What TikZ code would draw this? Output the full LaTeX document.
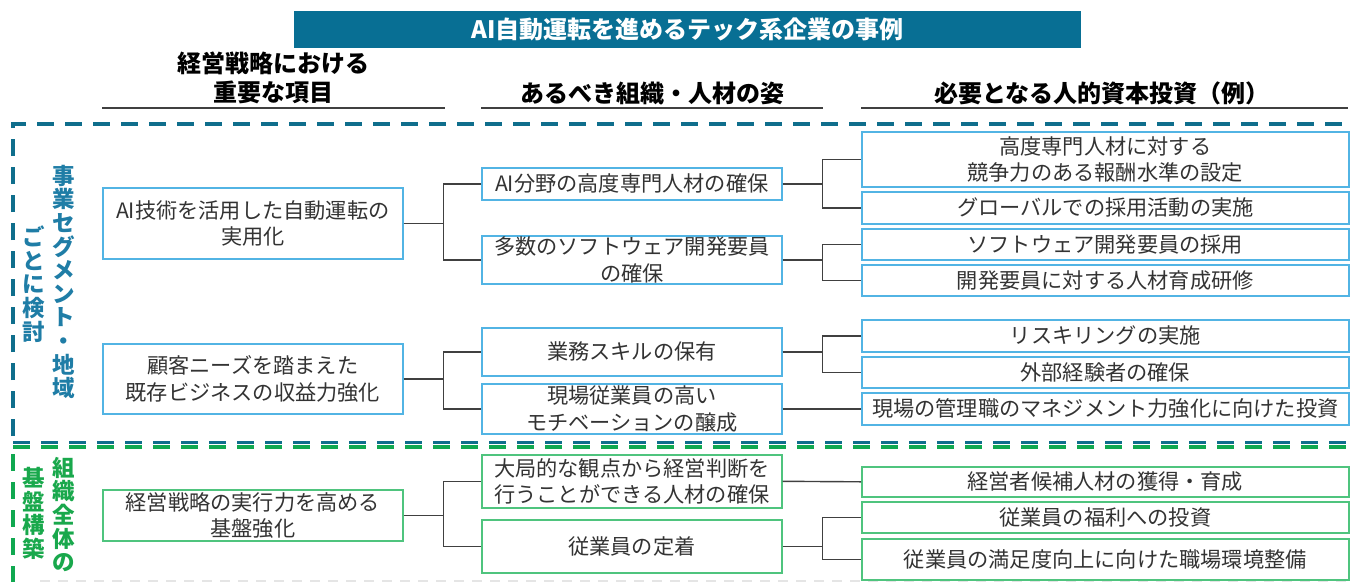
\documentclass[tikz,border=0pt]{standalone}
\usepackage{fontspec}
\setmainfont{Noto Sans CJK JP}
\definecolor{titlebar}{HTML}{086F94}
\definecolor{bblue}{HTML}{52B4E4}
\definecolor{bgreen}{HTML}{4FC47E}
\definecolor{dblue}{HTML}{0F6E8C}
\definecolor{dgreen}{HTML}{10A850}
\definecolor{lblue}{HTML}{1F7DA6}
\definecolor{lgreen}{HTML}{19A84C}
\definecolor{txt}{HTML}{333333}
\definecolor{conn}{HTML}{404040}
\tikzset{
  boxbase/.style={draw, line width=1.6, fill=white, inner sep=0pt, align=center, text=txt,
    font=\fontsize{21.2}{26.5}\selectfont, anchor=north west},
  bbox/.style={boxbase, draw=bblue},
  gbox/.style={boxbase, draw=bgreen},
  conline/.style={draw=conn, line width=1.4},
  hdr/.style={font=\bfseries\fontsize{24}{29}\selectfont, text=black, align=center},
  uline/.style={draw=conn, line width=1.3},
  dashb/.style={draw=dblue, line width=3.5, dash pattern=on 17pt off 11pt},
  dashg/.style={draw=dgreen, line width=3.5, dash pattern=on 17pt off 11pt},
  vlab/.style={font=\bfseries\fontsize{22.5}{23.6}\selectfont, align=center}
}
\begin{document}
\begin{tikzpicture}[x=1pt,y=-1pt]
\useasboundingbox (0,0) rectangle (1351,582);
% title
\node[fill=titlebar, minimum width=787, minimum height=37, inner sep=0, anchor=north west,
  text=white, font=\bfseries\fontsize{24}{28}\selectfont] (title) at (294,11) {AI自動運転を進めるテック系企業の事例};
% headers
\node[hdr] (h1) at (273,78) {経営戦略における\\重要な項目};
\node[hdr] (h2) at (652,93) {あるべき組織・人材の姿};
\node[hdr] (h3) at (1102,93) {必要となる人的資本投資（例）};
\coordinate (u1a) at (102,108); \coordinate (u1b) at (445,108);
\coordinate (u2a) at (481,108); \coordinate (u2b) at (823,108);
\coordinate (u3a) at (861,108); \coordinate (u3b) at (1348,108);
\draw[uline] (u1a) -- (u1b);
\draw[uline] (u2a) -- (u2b);
\draw[uline] (u3a) -- (u3b);
% dashed frames
\coordinate (fa) at (13,436); \coordinate (fb) at (13,124); \coordinate (fc) at (1351,124);
\coordinate (fd) at (13,442.5); \coordinate (fe) at (1351,442.5);
\coordinate (ff) at (13,447); \coordinate (fg) at (1351,447);
\coordinate (fh) at (13,454); \coordinate (fi) at (13,582);
\coordinate (fj) at (40,581); \coordinate (fk) at (1351,581);
\draw[dashb] (fa) -- (fb) -- (fc);
\draw[dashb] (fd) -- (fe);
\draw[dashg] (ff) -- (fg);
\draw[dashg] (fh) -- (fi);
\draw[draw=black!10, line width=1.2, dash pattern=on 10pt off 8pt] (fj) -- (fk);
% vertical labels
\node[vlab, text=lblue] (v1) at (64,282) {事\\業\\セ\\グ\\メ\\ン\\ト\\・\\地\\域};
\node[vlab, text=lblue] (v2) at (34,284) {ご\\と\\に\\検\\討};
\node[vlab, text=lgreen] (v3) at (64,514.5) {組\\織\\全\\体\\の};
\node[vlab, text=lgreen] (v4) at (34,513.5) {基\\盤\\構\\築};
% column 1
\node[bbox, minimum width=300, minimum height=71] (c1a) at (102,187) {AI技術を活用した自動運転の\\実用化};
\node[bbox, minimum width=300, minimum height=70] (c1b) at (102,343) {顧客ニーズを踏まえた\\既存ビジネスの収益力強化};
\node[gbox, minimum width=300, minimum height=51] (c1c) at (102,489) {経営戦略の実行力を高める\\基盤強化};
% column 2
\node[bbox, minimum width=300, minimum height=32] (c2a) at (481,167) {AI分野の高度専門人材の確保};
\node[bbox, minimum width=300, minimum height=48] (c2b) at (481,235) {多数のソフトウェア開発要員\\の確保};
\node[bbox, minimum width=300, minimum height=48] (c2c) at (481,327) {業務スキルの保有};
\node[bbox, minimum width=300, minimum height=50] (c2d) at (481,383) {現場従業員の高い\\モチベーションの醸成};
\node[gbox, minimum width=300, minimum height=53] (c2e) at (481,454) {大局的な観点から経営判断を\\行うことができる人材の確保};
\node[gbox, minimum width=300, minimum height=53] (c2f) at (481,519) {従業員の定着};
% column 3
\node[bbox, minimum width=487, minimum height=55] (c3a) at (861,131) {高度専門人材に対する\\競争力のある報酬水準の設定};
\node[bbox, minimum width=487, minimum height=32] (c3b) at (861,191) {グローバルでの採用活動の実施};
\node[bbox, minimum width=487, minimum height=31] (c3c) at (861,228) {ソフトウェア開発要員の採用};
\node[bbox, minimum width=487, minimum height=31] (c3d) at (861,264) {開発要員に対する人材育成研修};
\node[bbox, minimum width=487, minimum height=32] (c3e) at (861,319) {リスキリングの実施};
\node[bbox, minimum width=487, minimum height=31] (c3f) at (861,356) {外部経験者の確保};
\node[bbox, minimum width=487, minimum height=32] (c3g) at (861,392) {現場の管理職のマネジメント力強化に向けた投資};
\node[gbox, minimum width=487, minimum height=30] (c3h) at (861,466) {経営者候補人材の獲得・育成};
\node[gbox, minimum width=487, minimum height=31] (c3i) at (861,501) {従業員の福利への投資};
\node[gbox, minimum width=487, minimum height=41] (c3j) at (861,538) {従業員の満足度向上に向けた職場環境整備};
% connectors col1 -> col2
\draw[conline] (c1a.east) -- ([xshift=40pt]c1a.east) |- (c2a.west);
\draw[conline] ([xshift=40pt]c1a.east) |- (c2b.west);
\draw[conline] (c1b.east) -- ([xshift=40pt]c1b.east) |- (c2c.west);
\draw[conline] ([xshift=40pt]c1b.east) |- (c2d.west);
\draw[conline] (c1c.east) -- ([xshift=40pt]c1c.east) |- (c2e.west);
\draw[conline] ([xshift=40pt]c1c.east) |- (c2f.west);
% connectors col2 -> col3
\draw[conline] (c2a.east) -- ([xshift=40pt]c2a.east) |- (c3a.west);
\draw[conline] ([xshift=40pt]c2a.east) |- (c3b.west);
\draw[conline] (c2b.east) -- ([xshift=40pt]c2b.east) |- (c3c.west);
\draw[conline] ([xshift=40pt]c2b.east) |- (c3d.west);
\draw[conline] (c2c.east) -- ([xshift=40pt]c2c.east) |- (c3e.west);
\draw[conline] ([xshift=40pt]c2c.east) |- (c3f.west);
\draw[conline] (c2d.east) -- (c3g.west);
\draw[conline] (c2e.east) -- (c3h.west);
\draw[conline] (c2f.east) -- ([xshift=40pt]c2f.east) |- (c3i.west);
\draw[conline] ([xshift=40pt]c2f.east) |- (c3j.west);
\end{tikzpicture}
\end{document}
